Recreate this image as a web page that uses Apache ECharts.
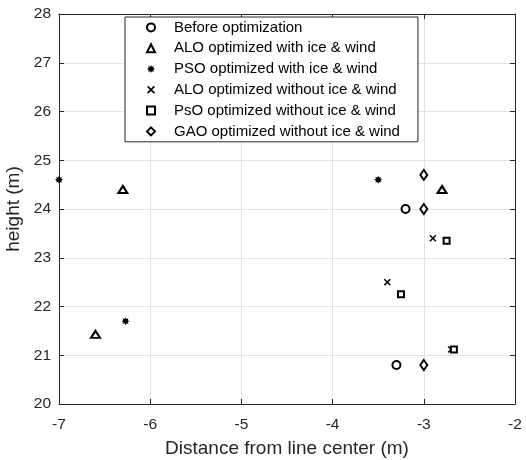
<!DOCTYPE html>
<html>
<head>
<meta charset="utf-8">
<script src="https://cdn.jsdelivr.net/npm/echarts@6/dist/echarts.min.js"></script>
<style>html,body{margin:0;padding:0;background:#fff}#c{width:526px;height:460px}</style>
</head>
<body>
<div id="c"></div>
<script>
// ---- data ----
const seriesNames = [
  'Before optimization',
  'ALO optimized with ice & wind',
  'PSO optimized with ice & wind',
  'ALO optimized without ice & wind',
  'PsO optimized without ice & wind',
  'GAO optimized without ice & wind'
];
const beforeOpt = [[-3.2, 24.0], [-3.3, 20.8]];
const aloIce = [[-6.3, 24.4], [-2.8, 24.4], [-6.6, 21.43]];
const psoIce = [[-7.0, 24.6], [-3.5, 24.6], [-6.27, 21.7]];
const aloNoIce = [[-2.9, 23.4], [-3.4, 22.5], [-2.7, 21.12]];
const psoNoIce = [[-2.75, 23.35], [-3.25, 22.25], [-2.67, 21.12]];
const gaoNoIce = [[-3.0, 24.7], [-3.0, 24.0], [-3.0, 20.8]];
const xTicks = [-7, -6, -5, -4, -3, -2];
const yTicks = [20, 21, 22, 23, 24, 25, 26, 27, 28];

const starPath = 'path://M0,-10 L2.3,-5.54 L7.07,-7.07 L5.54,-2.3 L10,0 L5.54,2.3 L7.07,7.07 L2.3,5.54 L0,10 L-2.3,5.54 L-7.07,7.07 L-5.54,2.3 L-10,0 L-5.54,-2.3 L-7.07,-7.07 L-2.3,-5.54 Z';
const xPath = 'path://M-10,-7 L-7,-10 L0,-3 L7,-10 L10,-7 L3,0 L10,7 L7,10 L0,3 L-7,10 L-10,7 L-3,0 Z';

const open = {color: '#fff', borderColor: '#000', borderWidth: 2, opacity: 1};
const filled = {color: '#000', borderWidth: 0, opacity: 1};

const axisColor = '#262626';
const font = 'Liberation Sans, Arial, sans-serif';

const chart = echarts.init(document.getElementById('c'), null, {renderer: 'canvas'});
chart.setOption({
  animation: false,
  backgroundColor: '#fff',
  grid: {left: 59, right: 11, top: 14, bottom: 56, containLabel: false, outerBoundsMode: 'none'},
  legend: {
    orient: 'vertical', left: 125, top: 17,
    backgroundColor: '#fff', borderColor: axisColor, borderWidth: 1, borderRadius: 0,
    padding: [0, 18, 0, 146 - 125],
    itemWidth: 8, itemHeight: 8, itemGap: 0,
    textStyle: {fontFamily: font, fontSize: 15, color: '#000', lineHeight: 20.8, padding: [0, 0, 0, 14]},
    data: seriesNames
  },
  xAxis: [{
    type: 'value', min: xTicks[0], max: xTicks[xTicks.length - 1], interval: 1,
    name: 'Distance from line center (m)', nameLocation: 'middle', nameGap: 35,
    nameTextStyle: {fontFamily: font, fontSize: 19, color: axisColor},
    axisLine: {show: true, onZero: false, lineStyle: {color: axisColor, width: 1}},
    axisTick: {show: true, inside: true, length: 5, lineStyle: {color: axisColor}},
    axisLabel: {fontFamily: font, fontSize: 15.5, color: axisColor, margin: 13},
    splitLine: {show: true, lineStyle: {color: '#e3e3e3', width: 1}}
  }, {
    type: 'value', position: 'top', min: xTicks[0], max: xTicks[xTicks.length - 1], interval: 1,
    axisLine: {show: true, onZero: false, lineStyle: {color: axisColor, width: 1}},
    axisTick: {show: true, inside: true, length: 5, lineStyle: {color: axisColor}},
    axisLabel: {show: false}, splitLine: {show: false}
  }],
  yAxis: [{
    type: 'value', min: yTicks[0], max: yTicks[yTicks.length - 1], interval: 1,
    name: 'height (m)', nameLocation: 'middle', nameGap: 33.5, nameRotate: 90,
    nameTextStyle: {fontFamily: font, fontSize: 19, color: axisColor},
    axisLine: {show: true, onZero: false, lineStyle: {color: axisColor, width: 1}},
    axisTick: {show: true, inside: true, length: 5, lineStyle: {color: axisColor}},
    axisLabel: {fontFamily: font, fontSize: 15.5, color: axisColor, margin: 8},
    splitLine: {show: true, lineStyle: {color: '#e3e3e3', width: 1}}
  }, {
    type: 'value', position: 'right', min: yTicks[0], max: yTicks[yTicks.length - 1], interval: 1,
    axisLine: {show: true, onZero: false, lineStyle: {color: axisColor, width: 1}},
    axisTick: {show: true, inside: true, length: 5, lineStyle: {color: axisColor}},
    axisLabel: {show: false}, splitLine: {show: false}
  }],
  series: [
    {name: seriesNames[0], type: 'scatter', data: beforeOpt, symbol: 'circle', symbolSize: 8, itemStyle: open},
    {name: seriesNames[1], type: 'scatter', data: aloIce, symbol: 'triangle', symbolSize: [9, 7], itemStyle: open},
    {name: seriesNames[2], type: 'scatter', data: psoIce, symbol: starPath, symbolSize: 8, itemStyle: filled},
    {name: seriesNames[3], type: 'scatter', data: aloNoIce, symbol: xPath, symbolSize: 7, itemStyle: filled},
    {name: seriesNames[4], type: 'scatter', data: psoNoIce, symbol: 'rect', symbolSize: 6, itemStyle: open},
    {name: seriesNames[5], type: 'scatter', data: gaoNoIce, symbol: 'diamond', symbolSize: [7, 10], itemStyle: open}
  ]
});
</script>
</body>
</html>
